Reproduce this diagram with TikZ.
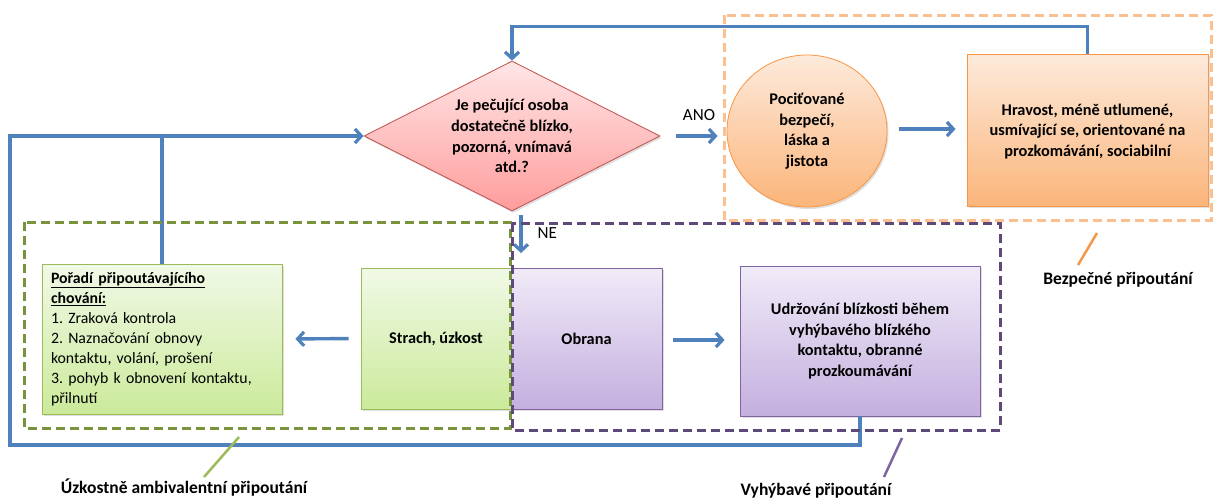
\documentclass[tikz,border=0pt]{standalone}
\usepackage{fontspec}
\setmainfont{Carlito}
\usetikzlibrary{arrows.meta,shapes.geometric,shadows}
\definecolor{flowblue}{HTML}{4F81BD}
\definecolor{redline}{HTML}{C0504D}
\definecolor{redtop}{HTML}{FFE6E6}
\definecolor{redbot}{HTML}{FF9C9C}
\definecolor{orline}{HTML}{F79646}
\definecolor{ortop}{HTML}{FDEADB}
\definecolor{orbot}{HTML}{FBB57A}
\definecolor{grline}{HTML}{9BBB59}
\definecolor{grtop}{HTML}{F1F9E7}
\definecolor{grbot}{HTML}{CBEA9A}
\definecolor{puline}{HTML}{8064A2}
\definecolor{putop}{HTML}{F0EBF8}
\definecolor{pubot}{HTML}{C4AFDF}
\definecolor{ordash}{HTML}{FAC08F}
\definecolor{grdash}{HTML}{77933C}
\definecolor{pudash}{HTML}{5F497A}
\frenchspacing
\begin{document}
\begin{tikzpicture}[x=1pt,y=-1pt,
  flow/.style={draw=flowblue, line width=3.4pt, -{Straight Barb[length=6.5pt,width=14pt,line width=3.2pt]}},
  plain/.style={draw=flowblue, line width=3.4pt},
  shad/.style={drop shadow={opacity=0.25, shadow xshift=1.5pt, shadow yshift=-2pt}},
  boxtxt/.style={font=\fontsize{16.3}{20.7}\selectfont\bfseries, align=center},
  redbox/.style={diamond, aspect=2, draw=redline, line width=0.8pt, top color=redtop, bottom color=redbot, inner sep=0pt, minimum width=296pt, minimum height=150pt, shad},
  orbox/.style={draw=orline, line width=0.8pt, top color=ortop, bottom color=orbot, inner sep=2pt, shad},
  grbox/.style={draw=grline, line width=0.8pt, top color=grtop, bottom color=grbot, inner sep=2pt, shad},
  pubox/.style={draw=puline, line width=0.8pt, top color=putop, bottom color=pubot, inner sep=2pt, shad},
  grp/.style={dashed, dash pattern=on 9pt off 5pt, line width=3pt},
  lbl/.style={font=\fontsize{17.5}{20}\selectfont\bfseries},
  small/.style={font=\fontsize{17}{20}\selectfont}
]
\useasboundingbox (0,0) rectangle (1216,501);

% nodes
\node[redbox, boxtxt] (dia) at (512,136) {Je pečující osoba\\dostatečně blízko,\\pozorná, vnímavá\\atd.?};
\node[ellipse, orbox, boxtxt, minimum width=160pt, minimum height=152pt, inner sep=0pt] (ell) at (807,131) {Pociťované\\bezpečí,\\láska a\\jistota};
\node[rectangle, orbox, boxtxt, minimum width=241pt, minimum height=152pt] (hrav) at (1087.5,130) {\strut Hravost, méně utlumené,\\usmívající se, orientované na\\prozkomávání, sociabilní};
\node[rectangle, grbox, minimum width=240pt, minimum height=150pt, inner xsep=9pt, text width=222pt, align=left, font=\fontsize{15.8}{20}\selectfont] (por) at (162,339) {\textbf{\underline{Pořadí připoutávajícího}}\\\textbf{\underline{chování:}}\\1. Zraková kontrola\\2. Naznačování obnovy\\kontaktu, volání, prošení\\3. pohyb k obnovení  kontaktu,\\přilnutí};
\node[rectangle, grbox, boxtxt, minimum width=150pt, minimum height=141pt] (str) at (436,338.5) {Strach, úzkost};
\node[rectangle, pubox, boxtxt, minimum width=151pt, minimum height=141pt] (obr) at (586.5,338.5) {Obrana};
\node[rectangle, pubox, boxtxt, minimum width=240pt, minimum height=150pt] (udr) at (860,341) {Udržování blízkosti během\\vyhýbavého blízkého\\kontaktu, obranné\\prozkoumávání};

% connectors
\draw[flow] (hrav.north) -- ++(0,-27) -| (dia.north);
\coordinate (lc) at (10,445);
\draw[flow] (udr.south) |- (lc) |- (dia.west);
\draw[plain] (por.north) -- (por.north |- dia.west);
\draw[flow, shorten <=16pt, shorten >=9pt] (dia.east) -- (ell.west |- dia.east);
\node[small, anchor=south] (ano) at (699,124) {ANO};
\draw[flow, shorten <=12pt, shorten >=11pt] (ell.east |- 0,129) -- (hrav.west |- 0,129);
\coordinate (ne1) at (521,215);
\coordinate (ne2) at (521,253);
\draw[flow] (ne1) -- (ne2);
\node[small, anchor=west] (ne) at (534,233) {NE};
\draw[flow, shorten <=12pt, shorten >=13pt] (str.west) -- (por.east);
\draw[flow, shorten <=11pt, shorten >=15pt] (obr.east |- 0,340) -- (udr.west |- 0,340);

% group frames
\draw[grp, draw=ordash] (724,15) rectangle (1211,220);
\draw[grp, draw=grdash] (24,222) rectangle (510,428);
\draw[grp, draw=pudash] (512,223) rectangle (1000,430);

% group labels
\node[lbl] (lb1) at (1118,280) {Bezpečné připoutání};
\node[lbl] (lb2) at (816,491) {Vyhýbavé připoutání};
\node[lbl] (lb3) at (184,488) {Úzkostně ambivalentní připoutání};
\draw[orline, line width=2.5pt] (1097,233) -- (1078,265);
\draw[puline, line width=2.5pt] (902,438) -- (884,477);
\draw[grline, line width=2.5pt] (239,437) -- (204,477);
\end{tikzpicture}
\end{document}
